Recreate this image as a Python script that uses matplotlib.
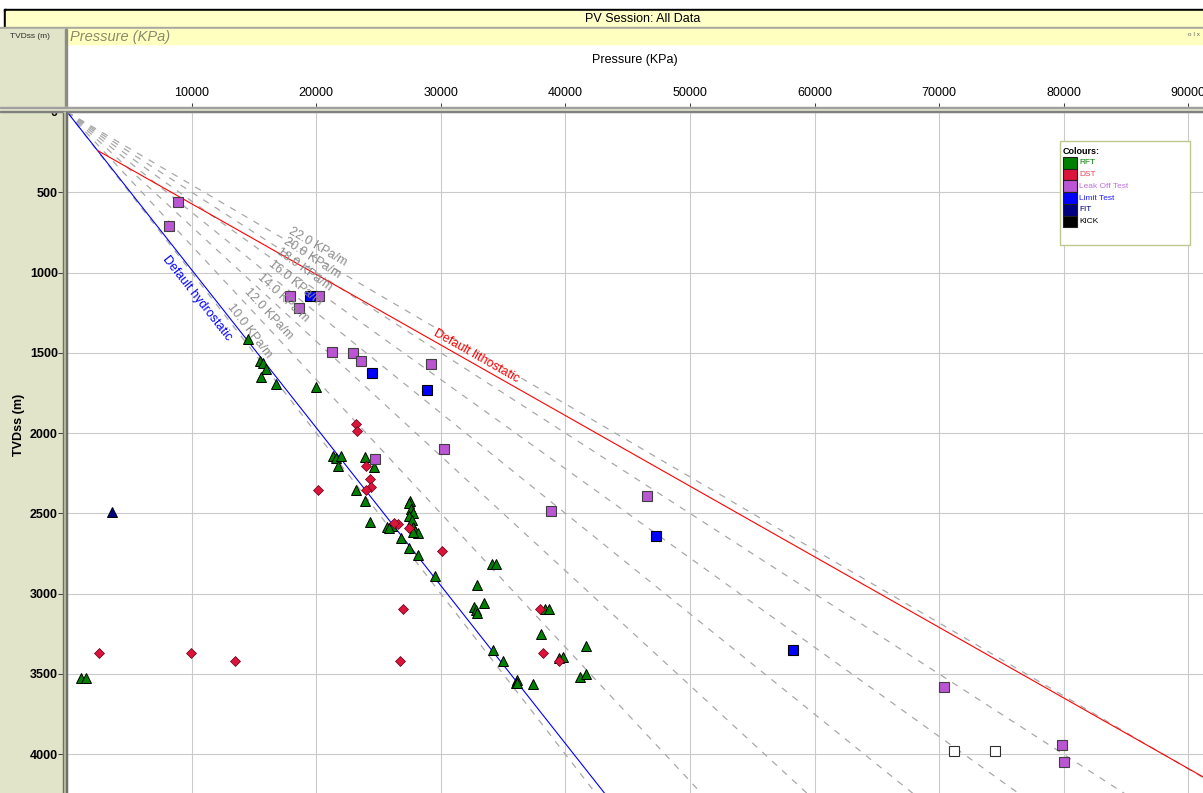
import numpy as np
import matplotlib
matplotlib.use("Agg")
import matplotlib.pyplot as plt
from matplotlib.patches import Rectangle

plt.rcParams["font.family"] = ["Liberation Sans", "DejaVu Sans"]

W, H = 1203, 793

# ---- data (pressure KPa, depth TVDss m) ----
rft_p = [1149, 1494, 14482, 15470, 15735, 15928, 15550, 16779, 19944,
         21309, 21550, 21952, 21711, 23928, 24627, 23205, 23880, 24305,
         27518, 27438, 27598, 27734, 27465, 27658, 27759, 27920, 28137, 27734,
         25695, 26096, 25855, 26771, 27438, 28185, 29526,
         32875, 32635, 32796, 32924, 33462, 34080, 34425,
         38361, 38707, 38064, 41631, 39510, 39831, 41173, 41631,
         34185, 34963, 36088, 36032, 36137, 37373]
rft_d = [3528, 3528, 1411, 1552, 1565, 1602, 1650, 1696, 1710,
         2142, 2152, 2140, 2206, 2150, 2212, 2354, 2420, 2553,
         2422, 2438, 2470, 2497, 2518, 2538, 2584, 2609, 2622, 2615,
         2584, 2578, 2588, 2656, 2715, 2760, 2891,
         2947, 3082, 3103, 3120, 3055, 2812, 2812,
         3098, 3098, 3252, 3327, 3403, 3397, 3518, 3501,
         3352, 3420, 3539, 3555, 3559, 3563]

dst_p = [2594, 9952, 13486, 23157, 23285, 23960, 24305, 24410, 24008, 20153,
         26554, 26233, 27438, 30112, 26956, 26739, 37960, 38225, 39486]
dst_d = [3369, 3369, 3418, 1946, 1988, 2202, 2283, 2333, 2357, 2357,
         2565, 2559, 2590, 2733, 3097, 3418, 3098, 3369, 3418]

lot_p = [8884, 8161, 17880, 18603, 20209, 21277, 22964, 23631, 29173,
         24707, 30225, 38843, 46545, 70426, 79847, 80032]
lot_d = [562, 712, 1146, 1224, 1149, 1496, 1502, 1552, 1569,
         2163, 2098, 2487, 2391, 3580, 3939, 4047]

limit_p = [19510, 24466, 28883, 47293, 58289]
limit_d = [1149, 1625, 1731, 2640, 3352]

fit_p = [3582]
fit_d = [2491]

kick_p = [71173, 74506]
kick_d = [3979, 3979]

gradients = [10.0, 12.0, 14.0, 16.0, 18.0, 20.0, 22.0]   # KPa/m
hydro_grad = 10.17
litho_grad = 22.75
seabed = 240

legend_names = ["RFT", "DST", "Leak Off Test", "Limit Test", "FIT", "KICK"]
legend_colors = ["#008000", "#dc143c", "#ba55d3", "#0000ff", "#000080", "#000000"]
legend_text_colors = ["#008000", "#e8405c", "#c070dc", "#2020ff", "#000080", "#000000"]


def fx(x):
    return x / W


def fy(y):
    return 1 - y / H


def box(x0, y0, x1, y1, z=-1, **kw):
    r = Rectangle((fx(x0), fy(y1)), (x1 - x0) / W, (y1 - y0) / H,
                  transform=fig.transFigure, zorder=z, **kw)
    fig.add_artist(r)


def line_label(start, grad, dist, offset, text, color):
    # put text along a gradient line, dist px from its start, offset px sideways
    p0 = ax.transData.transform(start)
    p1 = ax.transData.transform((start[0] + grad * 1000, start[1] + 1000))
    u = (p1 - p0) / np.hypot(*(p1 - p0))
    n = np.array([-u[1], u[0]])
    pos = ax.transData.inverted().transform(p0 + dist * u + offset * n)
    ang = np.degrees(np.arctan2(u[1], u[0]))
    ax.text(pos[0], pos[1], text, rotation=ang, rotation_mode="anchor",
            ha="center", va="center", fontsize=9, color=color, zorder=4)


fig = plt.figure(figsize=(W / 100, H / 100), dpi=100)

# window chrome
box(4.3, 8.7, 1203, 10.7, color="black")
box(4.3, 8.7, 6, 28, color="black")
box(6, 10.7, 1203, 27.3, color="#ffffc8")
fig.text(fx(643), fy(19), "PV Session: All Data", fontsize=9,
         ha="center", va="center")
box(0, 27.3, 1203, 29.3, color="#a8a8a0")
box(0, 29.3, 65, 793, color="#e1e4c8")
box(67, 29.3, 1203, 44, color="#ffffc0")
box(65, 29.3, 67, 107, color="#8c8c84")
fig.text(fx(10), fy(37), "TVDss (m)", fontsize=6, ha="left", va="center",
         color="#303030")
fig.text(fx(70), fy(37), "Pressure (KPa)", fontsize=10.5, style="italic",
         ha="left", va="center", color="#8a8a6a")
fig.text(fx(1188), fy(34), "o I x", fontsize=4.5, ha="left", va="center",
         color="#606060")
fig.text(fx(635), fy(60), "Pressure (KPa)", fontsize=9, ha="center",
         va="center")
fig.text(fx(19), fy(425), "TVDss (m)", fontsize=9, fontweight="bold",
         rotation=90, ha="center", va="center")

ax = fig.add_axes([fx(67.1), fy(793), (1203 - 67.1) / W, (793 - 111.9) / H])
ax.set_xlim(0, (1203 - 67.1) / 0.0124575)
ax.set_ylim((793 - 111.9) / 0.1606, 0)
for s in ax.spines.values():
    s.set_visible(False)

xt = np.arange(10000, 90001, 10000)
yt = np.arange(0, 4001, 500)
ax.xaxis.tick_top()
ax.set_xticks(xt)
ax.set_xticklabels([str(v) for v in xt])
ax.set_yticks(yt)
ax.set_yticklabels([str(v) for v in yt], fontweight="bold")
ax.tick_params(axis="x", length=6.5, width=0.75, pad=2.6, labelsize=9,
               color="#404040")
ax.tick_params(axis="y", length=6.2, width=0.75, pad=0.4, labelsize=9,
               color="#404040")
ax.grid(True, color="#cacaca", lw=0.8)
ax.set_axisbelow(True)

# gradient lines
dmax = 4400
for g in gradients:
    ax.plot([0, g * dmax], [0, dmax], color="#a8a8a8", lw=0.9,
            dashes=(5.2, 5.6), zorder=1)
    line_label((0, 0), g, 285, 10, f"{g:.1f} KPa/m", "#8c8c8c")

ax.plot([0, hydro_grad * dmax], [0, dmax], color="#0000ff", lw=0.8, zorder=2)
litho_start = (hydro_grad * seabed, seabed)
ax.plot([litho_start[0], litho_start[0] + litho_grad * (dmax - seabed)],
        [seabed, dmax], color="#ff0000", lw=0.8, zorder=2)
line_label((0, 0), hydro_grad, 227, -13, "Default hydrostatic", "#0000ff")
line_label(litho_start, litho_grad, 431, 8, "Default lithostatic", "#ff0000")

# data points
ax.plot(rft_p, rft_d, "^", ms=7, mfc="#008000", mec="black", mew=0.7,
        ls="none", zorder=3)
ax.plot(dst_p, dst_d, "D", ms=4.8, mfc="#dc143c", mec="#600018", mew=0.5,
        ls="none", zorder=3)
ax.plot(lot_p, lot_d, "s", ms=7, mfc="#ba55d3", mec="#404040", mew=0.8,
        ls="none", zorder=3)
ax.plot(limit_p, limit_d, "s", ms=7, mfc="#0000ff", mec="black", mew=0.8,
        ls="none", zorder=3)
ax.plot(fit_p, fit_d, "^", ms=7, mfc="#000080", mec="black", mew=0.7,
        ls="none", zorder=3)
ax.plot(kick_p, kick_d, "s", ms=7, mfc="white", mec="#303030", mew=0.8,
        ls="none", zorder=3)

# separators over the axes edges
box(0, 106.7, 1203, 111.9, z=5, color="#e6e9cc")
box(0, 106.7, 1203, 107.5, z=5, color="#a0a0a0")
box(0, 111.2, 1203, 111.9, z=5, color="#808080")
box(62.5, 111.9, 67.1, 793, z=5, color="#c4c8a8")
box(62.5, 111.9, 63.3, 793, z=5, color="#70706a")
box(66.3, 111.9, 67.1, 793, z=5, color="#70706a")

# legend box
box(1060, 141, 1190, 245, z=6, facecolor="white", edgecolor="#c0c890", lw=1)
fig.text(fx(1063), fy(152), "Colours:", fontsize=6.5, fontweight="bold",
         ha="left", va="center", zorder=7)
for i, (name, c, tc) in enumerate(zip(legend_names, legend_colors,
                                      legend_text_colors)):
    y0 = 157 + i * 11.7
    box(1063, y0, 1077, y0 + 11.7, z=7, facecolor=c, edgecolor="#202020",
        lw=0.8)
    fig.text(fx(1079), fy(y0 + 6), name, fontsize=6, color=tc, ha="left",
             va="center", zorder=7)

fig.savefig("out.png", dpi=100)
